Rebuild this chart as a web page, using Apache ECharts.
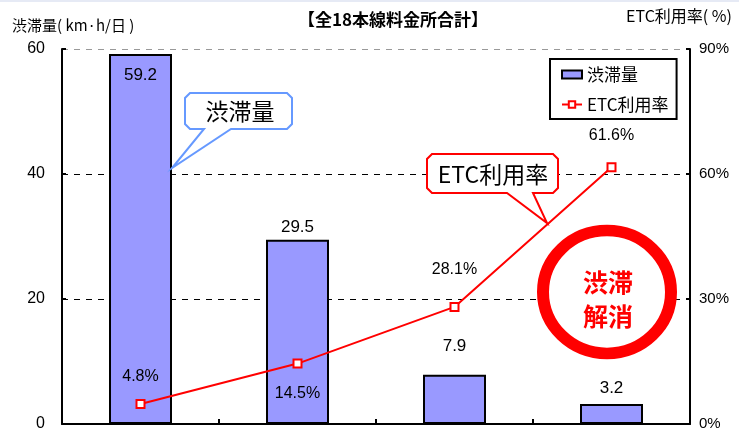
<!DOCTYPE html>
<html>
<head>
<meta charset="utf-8">
<script src="https://cdn.jsdelivr.net/npm/echarts@6/dist/echarts.min.js"></script>
<style>
  html, body { margin: 0; padding: 0; background: #fff; }
  #chart { width: 739px; height: 439px; }
</style>
</head>
<body>
<div id="chart"></div>
<script>
// Four stages of ETC adoption at the 18 mainline toll plazas
var categories = ['段階1', '段階2', '段階3', '段階4'];
var congestion = [59.2, 29.5, 7.9, 3.2];        // km·h/日
var etcRate = [4.8, 14.5, 28.1, 61.6];          // %
var leftTicks = [0, 20, 40, 60];
var rightTicks = [0, 30, 60, 90];

var LATIN = '"Liberation Sans", Arial, "Noto Sans CJK JP", sans-serif';
var CJK = '"Noto Sans CJK JP", "Liberation Sans", sans-serif';

// per-bar label placement
var barLabelPos = [
  { position: 'insideTop', distance: 13 },
  { position: 'top', distance: 4 },
  { position: 'top', distance: 20 },
  { position: 'top', distance: 7 }
];
var lineLabelPos = [
  { position: 'top', distance: 14 },
  { position: 'bottom', distance: 17 },
  { position: 'top', distance: 24 },
  { position: 'top', distance: 19 }
];

var chart = echarts.init(document.getElementById('chart'), null, { renderer: 'canvas' });

var option = {
  animation: false,
  backgroundColor: '#fff',
  textStyle: { fontFamily: LATIN },
  title: {
    text: '【全18本線料金所合計】',
    left: 388, top: 6, textAlign: 'center',
    textStyle: { fontFamily: CJK, fontSize: 17, fontWeight: 'bold', color: '#000' }
  },
  legend: {
    left: 550, top: 59,
    orient: 'vertical',
    borderColor: '#000', borderWidth: 2,
    padding: [7, 8, 6, 11],
    itemWidth: 20, itemHeight: 8, itemGap: 13,
    textStyle: { fontFamily: CJK, fontSize: 17, color: '#000' },
    data: [{ name: '渋滞量', icon: 'rect' }, { name: 'ETC利用率' }]
  },
  grid: { left: 62, right: 49, top: 49, bottom: 15, containLabel: false },
  xAxis: {
    type: 'category',
    data: categories,
    axisLine: { lineStyle: { color: '#000', width: 2 } },
    axisTick: { show: true, inside: true, length: 5, lineStyle: { color: '#000', width: 2 } },
    axisLabel: { show: false }
  },
  yAxis: [
    {
      type: 'value', min: leftTicks[0], max: leftTicks[leftTicks.length - 1], interval: 20,
      axisLine: { show: true, lineStyle: { color: '#000', width: 2 } },
      axisTick: { show: true, inside: true, length: 4, lineStyle: { color: '#000', width: 2 } },
      axisLabel: { color: '#000', fontSize: 16, margin: 17, fontFamily: LATIN },
      splitLine: {
        show: true,
        lineStyle: { type: [6, 6], width: 1.2, color: ['#000', '#000', '#000', '#999'] }
      }
    },
    {
      type: 'value', min: rightTicks[0], max: rightTicks[rightTicks.length - 1], interval: 30,
      axisLine: { show: true, lineStyle: { color: '#000', width: 2 } },
      axisTick: { show: true, inside: true, length: 4, lineStyle: { color: '#000', width: 2 } },
      axisLabel: { color: '#000', fontSize: 15, margin: 9, formatter: '{value}%', fontFamily: LATIN },
      splitLine: { show: false }
    }
  ],
  series: [
    {
      name: '渋滞量',
      type: 'bar',
      barWidth: 63,
      itemStyle: { color: '#9999ff', borderColor: '#000', borderWidth: 2 },
      data: congestion.map(function (v, i) {
        return {
          value: v,
          label: {
            show: true, position: barLabelPos[i].position, distance: barLabelPos[i].distance,
            color: '#000', fontSize: 17, fontFamily: LATIN
          }
        };
      }),
      z: 2
    },
    {
      name: 'ETC利用率',
      type: 'line',
      yAxisIndex: 1,
      symbol: 'rect', symbolSize: 8,
      lineStyle: { color: '#ff0000', width: 2 },
      itemStyle: { color: '#fff', borderColor: '#ff0000', borderWidth: 2 },
      data: etcRate.map(function (v, i) {
        return {
          value: v,
          label: {
            show: true, position: lineLabelPos[i].position, distance: lineLabelPos[i].distance,
            color: '#000', fontSize: 16, fontFamily: LATIN,
            formatter: function (p) { return p.value + '%'; }
          }
        };
      }),
      z: 5
    }
  ]
};
chart.setOption(option);

// speech-bubble outline: chamfered box with a pointer from its bottom edge
function bubble(x0, y0, x1, y1, bx0, bx1, tip, c) {
  return [
    [x0 + c, y0], [x1 - c, y0], [x1, y0 + c], [x1, y1 - c], [x1 - c, y1],
    [bx1, y1], tip, [bx0, y1],
    [x0 + c, y1], [x0, y1 - c], [x0, y0 + c]
  ];
}

chart.setOption({
  graphic: [
    // thin band along the top edge
    { type: 'rect', shape: { x: 0, y: 0, width: 739, height: 2 }, style: { fill: '#e6eaf5' }, silent: true },
    // axis titles
    {
      type: 'text', left: 12, top: 18,
      style: { text: '渋滞量( km·h/日 )', font: '15px ' + CJK, fill: '#000' }
    },
    {
      type: 'text', right: 7, top: 8,
      style: { text: 'ETC利用率( %)', font: '16px ' + CJK, fill: '#000' }
    },
    // callout for the bars
    {
      type: 'polygon', z: 10,
      shape: { points: bubble(185, 93, 292, 129, 204, 231, [172, 168], 5) },
      style: { fill: '#fff', stroke: '#6699ff', lineWidth: 2 }
    },
    {
      type: 'text', z: 11, x: 240, y: 111,
      style: { text: '渋滞量', font: '23px ' + CJK, fill: '#000', align: 'center', verticalAlign: 'middle' }
    },
    // callout for the line
    {
      type: 'polygon', z: 10,
      shape: { points: bubble(427, 154, 558, 193, 507, 533, [547, 223], 5) },
      style: { fill: '#fff', stroke: '#ff0000', lineWidth: 2 }
    },
    {
      type: 'text', z: 11, x: 493, y: 174,
      style: { text: 'ETC利用率', font: '23px ' + CJK, fill: '#000', align: 'center', verticalAlign: 'middle' }
    },
    // red stamp
    {
      type: 'circle', z: 10, x: 607, y: 292, scaleY: 0.96,
      shape: { cx: 0, cy: 0, r: 64 },
      style: { fill: '#fff', stroke: '#ff0000', lineWidth: 12 }
    },
    {
      type: 'text', z: 11, x: 608, y: 282,
      style: { text: '渋滞', font: 'bold 25px ' + CJK, fill: '#ff0000', align: 'center', verticalAlign: 'middle' }
    },
    {
      type: 'text', z: 11, x: 608, y: 316,
      style: { text: '解消', font: 'bold 25px ' + CJK, fill: '#ff0000', align: 'center', verticalAlign: 'middle' }
    }
  ]
});
</script>
</body>
</html>
